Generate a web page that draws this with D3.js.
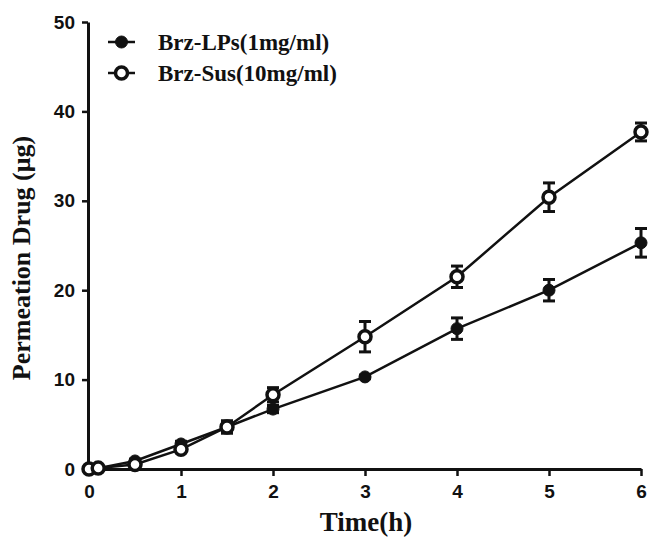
<!DOCTYPE html>
<html>
<head>
<meta charset="utf-8">
<script src="https://cdn.jsdelivr.net/npm/d3@7"></script>
<style>
  body { margin: 0; background: #fff; }
  .tick text { font-family: "Liberation Sans", Arial, sans-serif; font-weight: bold; font-size: 19px; }
</style>
</head>
<body>
<div id="container"></div>
<script>
// time points (h)
const times = [0, 0.1, 0.5, 1, 1.5, 2, 3, 4, 5, 6]
// Brz-LPs(1mg/ml)
const lpsMean = [0, 0.1, 0.9, 2.8, 4.7, 6.7, 10.3, 15.7, 20.0, 25.3]
const lpsErr = [0, 0, 0.2, 0.3, 0.6, 0.4, 0.2, 1.2, 1.2, 1.6]
// Brz-Sus(10mg/ml)
const susMean = [0, 0.1, 0.5, 2.2, 4.7, 8.3, 14.8, 21.5, 30.4, 37.7]
const susErr = [0, 0, 0.2, 0.3, 0.7, 0.8, 1.7, 1.2, 1.6, 1.0]

const xTicks = [0, 1, 2, 3, 4, 5, 6]
const yTicks = [0, 10, 20, 30, 40, 50]

const series = [
  { name: "Brz-LPs(1mg/ml)", mean: lpsMean, err: lpsErr, open: false },
  { name: "Brz-Sus(10mg/ml)", mean: susMean, err: susErr, open: true }
]

const svg = d3.select('#container').append('svg')
  .attr('width', 651)
  .attr('height', 537)

const x = d3.scaleLinear().domain([0, 6]).range([89, 641])
const y = d3.scaleLinear().domain([0, 50]).range([469, 22])

// axes
svg.append('g')
  .attr('transform', 'translate(0,469)')
  .call(d3.axisBottom(x).tickValues(xTicks).tickFormat(d3.format('d'))
    .tickSize(7).tickSizeOuter(0).tickPadding(9))
svg.append('g')
  .attr('transform', 'translate(88,0)')
  .call(d3.axisLeft(y).tickValues(yTicks).tickFormat(d3.format('d'))
    .tickSize(6).tickSizeOuter(0).tickPadding(7))

svg.selectAll('.domain').attr('stroke', '#111').attr('stroke-width', 3)
svg.selectAll('.tick line').attr('stroke', '#111').attr('stroke-width', 2.5)
svg.selectAll('.tick text').attr('fill', '#111')

// axis titles
svg.append('text')
  .attr('x', 366)
  .attr('y', 531)
  .attr('text-anchor', 'middle')
  .style('font-family', '"Liberation Serif", "Times New Roman", serif')
  .style('font-weight', 'bold')
  .style('font-size', '27px')
  .attr('fill', '#111')
  .text('Time(h)')

svg.append('text')
  .attr('transform', 'translate(30,258) rotate(-90)')
  .attr('text-anchor', 'middle')
  .style('font-family', '"Liberation Serif", "Times New Roman", serif')
  .style('font-weight', 'bold')
  .style('font-size', '26px')
  .attr('fill', '#111')
  .text('Permeation Drug (μg)')

const line = d3.line()
  .x(d => x(d.t))
  .y(d => y(d.v))

series.forEach(s => {
  const pts = times.map((t, i) => ({ t: t, v: s.mean[i], e: s.err[i] }))
  const g = svg.append('g')

  g.append('path')
    .datum(pts)
    .attr('d', line)
    .attr('fill', 'none')
    .attr('stroke', '#111')
    .attr('stroke-width', 2.5)

  // error bars
  const eb = g.selectAll('.err')
    .data(pts.filter(d => d.e > 0))
    .enter()
    .append('g')
  eb.append('line')
    .attr('x1', d => x(d.t)).attr('x2', d => x(d.t))
    .attr('y1', d => y(d.v + d.e)).attr('y2', d => y(d.v - d.e))
    .attr('stroke', '#111').attr('stroke-width', 3)
  eb.append('line')
    .attr('x1', d => x(d.t) - 6).attr('x2', d => x(d.t) + 6)
    .attr('y1', d => y(d.v + d.e)).attr('y2', d => y(d.v + d.e))
    .attr('stroke', '#111').attr('stroke-width', 3)
  eb.append('line')
    .attr('x1', d => x(d.t) - 6).attr('x2', d => x(d.t) + 6)
    .attr('y1', d => y(d.v - d.e)).attr('y2', d => y(d.v - d.e))
    .attr('stroke', '#111').attr('stroke-width', 3)

  g.selectAll('circle')
    .data(pts)
    .enter()
    .append('circle')
    .attr('cx', d => x(d.t))
    .attr('cy', d => y(d.v))
    .attr('r', 6)
    .attr('fill', s.open ? '#fff' : '#111')
    .attr('stroke', '#111')
    .attr('stroke-width', s.open ? 3.5 : 1)
})

// legend
const legend = svg.selectAll('.legend')
  .data(series)
  .enter()
  .append('g')
  .attr('transform', (d, i) => `translate(108,${42 + i * 31})`)
legend.append('line')
  .attr('x1', 0).attr('x2', 27)
  .attr('y1', 0).attr('y2', 0)
  .attr('stroke', '#111').attr('stroke-width', 2.5)
legend.append('circle')
  .attr('cx', 13.5).attr('cy', 0)
  .attr('r', 6)
  .attr('fill', d => d.open ? '#fff' : '#111')
  .attr('stroke', '#111')
  .attr('stroke-width', d => d.open ? 3.5 : 1)
legend.append('text')
  .attr('x', 50)
  .attr('y', 8)
  .style('font-family', '"Liberation Serif", "Times New Roman", serif')
  .style('font-weight', 'bold')
  .style('font-size', '23px')
  .attr('fill', '#111')
  .text(d => d.name)
</script>
</body>
</html>
